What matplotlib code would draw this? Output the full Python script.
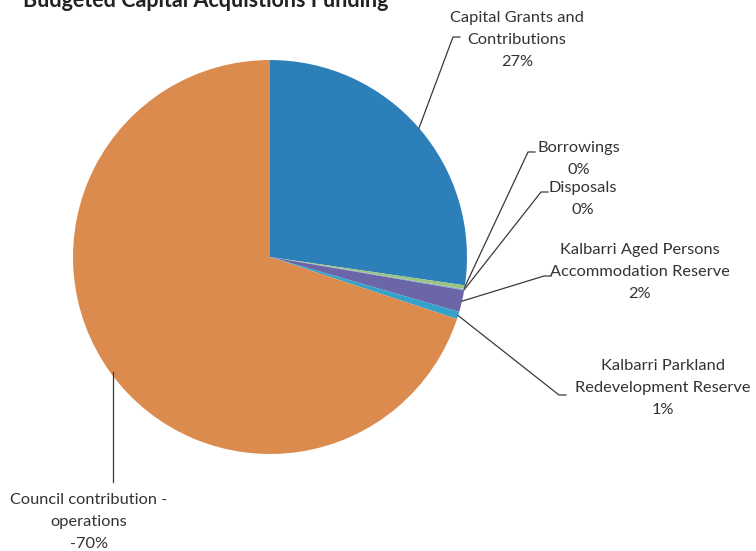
import matplotlib.pyplot as plt
import numpy as np

# Data (percent of budgeted funding)
labels = ["Capital Grants and\nContributions", "Borrowings", "Disposals",
          "Kalbarri Aged Persons\nAccommodation Reserve",
          "Kalbarri Parkland\nRedevelopment Reserve",
          "Council contribution -\noperations"]
values = [27.3, 0.3, 0.1, 1.8, 0.6, 69.9]
pct_text = ["27%", "0%", "0%", "2%", "1%", "-70%"]
colors = ["#2d7fba", "#9cc47c", "#8fb3c8", "#6a66a8", "#35a2c9", "#dc8b4e"]

plt.rcParams['font.family'] = ['Lato', 'DejaVu Sans']

fig = plt.figure(figsize=(7.56, 5.51), dpi=100)
ax = fig.add_axes([0, 0, 1, 1])

H = 551
center = (270, H - 257)
radius = 197
wedges, _ = ax.pie(values, colors=colors, startangle=90, counterclock=False,
                   center=center, radius=radius,
                   wedgeprops=dict(linewidth=0))
ax.set_xlim(0, 756)
ax.set_ylim(0, H)
ax.set_aspect('equal')
ax.axis('off')

# label layout in px from top-left: text centre x, first line centre y, elbow x, elbow y
layout = [
    (517, 18, 453, 37),
    (579, 148, 528, 152),
    (583, 188, 541, 192),
    (640, 250, 544, 276),
    (663, 366, 559, 395),
    (89, 500, 113, 482),
]
line_gap = 22

for w, lab, pct, (tx, ty, ex, ey) in zip(wedges, labels, pct_text, layout):
    mid = np.deg2rad((w.theta1 + w.theta2) / 2)
    px = center[0] + radius * np.cos(mid)
    py = center[1] + radius * np.sin(mid)
    if lab.startswith("Council"):
        ax.plot([ex, ex], [py, H - ey], color="#3a3a3a", lw=0.9)
    else:
        ax.plot([px, ex, ex + 7], [py, H - ey, H - ey], color="#3a3a3a", lw=0.9)
    for i, line in enumerate(lab.split("\n") + [pct]):
        ax.text(tx, H - ty - i * line_gap, line, ha="center", va="center",
                fontsize=11.8, color="#333333")

ax.text(23, H - 7, "Budgeted Capital Acquistions Funding", ha="left",
        va="baseline", fontsize=15.5, fontweight="bold", color="#222222")

fig.savefig("out.png", dpi=100)
